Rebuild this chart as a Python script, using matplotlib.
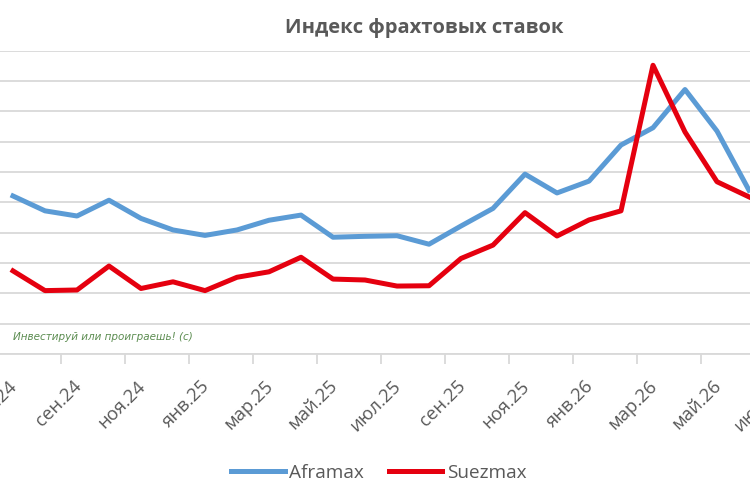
import matplotlib
matplotlib.use("Agg")
import matplotlib.pyplot as plt
import matplotlib.transforms as mtransforms

# the last label (июл.26) is only partly visible at the right edge
months = ["июл.24", "авг.24", "сен.24", "окт.24", "ноя.24", "дек.24",
          "янв.25", "фев.25", "мар.25", "апр.25", "май.25", "июн.25",
          "июл.25", "авг.25", "сен.25", "окт.25", "ноя.25", "дек.25",
          "янв.26", "фев.26", "мар.26", "апр.26", "май.26", "июн.26", "июл.26"]

aframax = [52.1, 47.2, 45.5, 50.7, 44.7, 40.9, 39.1, 40.9, 44.1, 45.8, 38.5, 38.8,
           39.0, 36.2, 42.2, 48.0, 59.3, 53.1, 57.0, 68.9, 74.6, 87.2, 73.5, 54.0]
suezmax = [27.4, 20.9, 21.1, 29.0, 21.6, 23.8, 20.9, 25.3, 27.1, 31.9, 24.7, 24.4,
           22.4, 22.5, 31.5, 35.9, 46.6, 38.9, 44.2, 47.2, 95.2, 73.2, 56.8, 51.8]

title = "Индекс фрахтовых ставок"
watermark = "Инвестируй или проиграешь! (с)"

plt.rcParams["font.family"] = ["Open Sans", "DejaVu Sans"]
gray = "#595959"

fig = plt.figure(figsize=(7.5, 5), dpi=100)
# plot area is wider than the picture (cropped chart)
ax = fig.add_axes([-3 / 750, 1 - 354 / 500, 800 / 750, (354 - 50.7) / 500])

x = list(range(len(months)))
ax.plot(x[:len(aframax)], aframax, color="#5B9BD5", lw=3.6, label="Aframax",
        solid_joinstyle="round")
ax.plot(x[:len(suezmax)], suezmax, color="#E5000F", lw=3.6, label="Suezmax",
        solid_joinstyle="round")

ax.set_yticks(range(0, 101, 10))
ax.yaxis.grid(True, color="#D9D9D9", lw=1.3)
ax.set_axisbelow(True)
ax.tick_params(axis="y", length=0, labelleft=False)
for s in ["left", "right", "top"]:
    ax.spines[s].set_visible(False)
ax.spines["bottom"].set_color("#D9D9D9")
ax.spines["bottom"].set_linewidth(1.3)

ax.set_xticks(x[::2], months[::2], rotation=45, ha="right", va="center",
              rotation_mode="anchor", fontsize=13.3, color=gray)
ax.set_xticks([i + 1.5 for i in x[::2]], minor=True)
ax.tick_params(axis="x", which="major", length=0, pad=21)
ax.tick_params(axis="x", which="minor", length=7, color="#D9D9D9", width=1.3)
shift = mtransforms.ScaledTranslation(1.5 / 100, 0, fig.dpi_scale_trans)
for lab in ax.get_xticklabels():
    lab.set_transform(lab.get_transform() + shift)

ax.set_xlim(-0.5, len(months) - 0.5)
ax.set_ylim(0, 100)

fig.text(424 / 750, 1 - 28 / 500, title, ha="center", va="center",
         fontsize=14.5, fontweight="bold", color=gray)
ax.text(16 / 800, (354 - 337) / (354 - 50.7), watermark,
        transform=ax.transAxes, fontsize=7.5, style="italic", color="#5B8C50",
        ha="left", va="center", family=["DejaVu Sans"])

fig.legend(loc="center", bbox_to_anchor=(379 / 750, 1 - 473 / 500), ncol=2,
           frameon=False, fontsize=13.7, labelcolor=gray, handlelength=2.8,
           columnspacing=1.3, handletextpad=0.25)

fig.savefig("out.png", dpi=100)
